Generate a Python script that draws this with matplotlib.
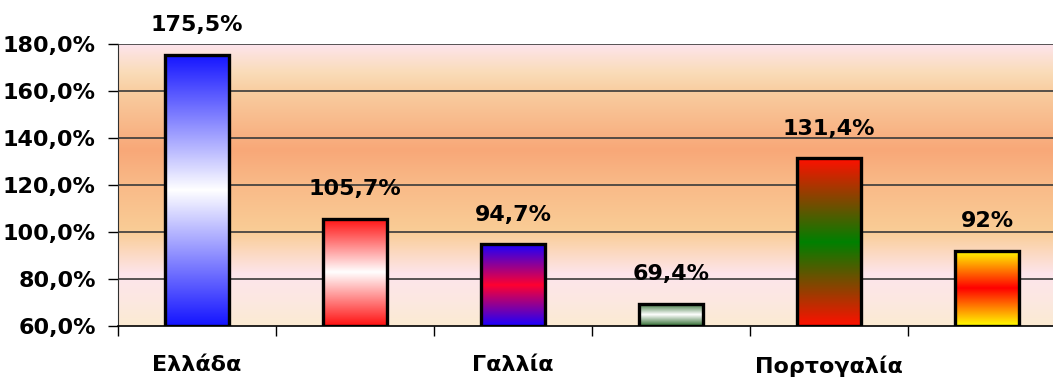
import numpy as np
import matplotlib.pyplot as plt
from matplotlib.colors import LinearSegmentedColormap
from matplotlib.ticker import FuncFormatter

# Ποσοστά ανά χώρα (6 στήλες, ετικέτα σε κάθε δεύτερη)
values = [175.5, 105.7, 94.7, 69.4, 131.4, 92]
value_labels = ['175,5%', '105,7%', '94,7%', '69,4%', '131,4%', '92%']
tick_labels = ['Ελλάδα', '', 'Γαλλία', '', 'Πορτογαλία', '']

# χρώματα διαβάθμισης κάθε στήλης: άκρα -> κέντρο
bar_colors = [
    ('#1414ff', '#ffffff'),
    ('#ff1010', '#ffffff'),
    ('#1a00ff', '#ff0030'),
    ('#2e6b2e', '#ffffff'),
    ('#ff1000', '#008000'),
    ('#ffff00', '#ff0000'),
]

# χρώματα φόντου (τιμή άξονα, χρώμα)
bg_stops = [(60, '#fbebd2'), (70, '#fce8e0'), (82, '#fde5ec'), (100, '#facd96'),
            (120, '#f9ba88'), (135, '#f8a878'), (160, '#f9cda0'), (168, '#fadcb8'),
            (180, '#fde4ec')]

plt.rcParams['font.family'] = ['DejaVu Sans']
FS = 16

fig = plt.figure(figsize=(10.53, 3.79), dpi=100)
ax = fig.add_axes([118 / 1053, 53 / 379, 948 / 1053, 282 / 379])

ymin, ymax = 60, 180
n = len(values)
x = np.arange(n)

# φόντο με κάθετη διαβάθμιση
lo, hi = bg_stops[0][0], bg_stops[-1][0]
bg_cmap = LinearSegmentedColormap.from_list(
    'bg', [((v - lo) / (hi - lo), c) for v, c in bg_stops])
grad = np.linspace(0, 1, 256).reshape(-1, 1)
ax.imshow(grad, cmap=bg_cmap, aspect='auto', origin='lower',
          extent=(-0.5, n - 0.5, ymin, ymax), zorder=0)

for yv in range(80, 181, 20):
    ax.axhline(yv, color='#3a3a3a', lw=1.2, zorder=1)

width = 0.4
for i, (v, (edge_c, mid_c)) in enumerate(zip(values, bar_colors)):
    cmap = LinearSegmentedColormap.from_list('b%d' % i, [edge_c, mid_c, edge_c])
    bar = ax.bar(x[i], v - ymin, bottom=ymin, width=width, color='none',
                 edgecolor='black', linewidth=2.4, zorder=3)[0]
    im = ax.imshow(grad, cmap=cmap, aspect='auto', origin='lower',
                   extent=(x[i] - width / 2, x[i] + width / 2, ymin, v), zorder=2)
    im.set_clip_path(bar)
    ax.annotate(value_labels[i], (x[i], v), xytext=(0, 14), textcoords='offset points',
                ha='center', va='bottom', fontsize=FS, fontweight='bold')

ax.set_xlim(-0.5, n - 0.5)
ax.set_ylim(ymin, ymax)

ax.yaxis.set_major_formatter(FuncFormatter(lambda v, p: ('%.1f%%' % v).replace('.', ',')))
ax.set_yticks(range(60, 181, 20))
ax.set_xticks(np.arange(-0.5, n, 1.0))
ax.set_xticklabels([])
ax.set_xticks(x, minor=True)
ax.set_xticklabels(tick_labels, minor=True)
ax.tick_params(axis='x', which='minor', length=0, pad=21)
ax.tick_params(axis='x', which='major', length=7, width=1, color='black')
ax.tick_params(axis='y', length=7, width=1, pad=9)
for lbl in ax.get_yticklabels() + ax.get_xticklabels(minor=True):
    lbl.set_fontsize(FS)
    lbl.set_fontweight('bold')

for s in ['top', 'right']:
    ax.spines[s].set_visible(False)
ax.spines['left'].set_color('#303030')
ax.spines['bottom'].set_color('black')
ax.spines['bottom'].set_linewidth(1.2)

fig.savefig('out.png', dpi=100)
